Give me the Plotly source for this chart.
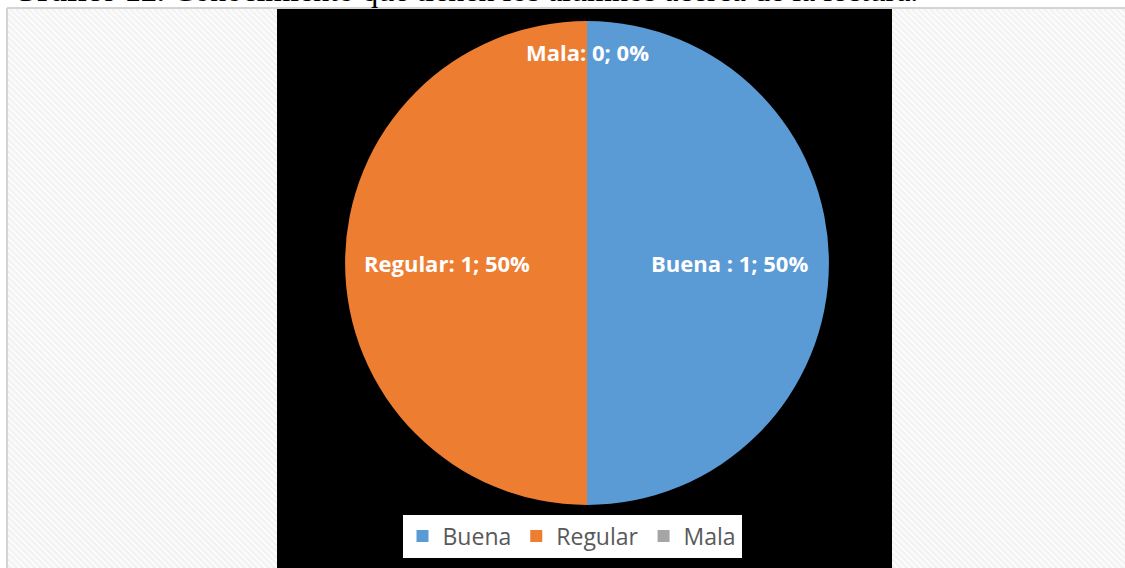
import math
import plotly.graph_objects as go

W, H = 1125, 568

categories = ["Buena", "Regular", "Mala"]
values = [1, 1, 0]
colors = ["#5B9BD5", "#ED7D31", "#A5A5A5"]
label_prefix = ["Buena ", "Regular", "Mala"]
caption = "<b>Gráfico 12.</b> Conocimiento que tienen los alumnos acerca de la lectura."

def px(x):
    return x / W

def py(y):
    return 1 - y / H

fig = go.Figure()

# pie geometry (pixels)
cx, cy, R = 587, 263, 242

fig.add_trace(go.Pie(
    labels=categories,
    values=values,
    marker=dict(colors=colors, line=dict(width=0)),
    sort=False,
    direction="clockwise",
    rotation=0,
    textinfo="none",
    hoverinfo="label+value+percent",
    domain=dict(x=[px(cx - R), px(cx + R)], y=[py(cy + R), py(cy - R)]),
    showlegend=True,
))

shapes = []
# hatched background regions
regions = [(8, 9, 277, H), (892, 9, W, H)]
for (x0, y0, x1, y1) in regions:
    shapes.append(dict(type="rect", xref="paper", yref="paper", x0=px(x0), x1=px(x1),
                       y0=py(y1), y1=py(y0), fillcolor="#f1f1f1", line=dict(width=0), layer="below"))
    step = 6
    c = x0 - y1
    while c < x1 - y0:
        ya = max(y0, x0 - c)
        yb = min(y1, x1 - c)
        if yb > ya:
            shapes.append(dict(type="line", xref="paper", yref="paper",
                               x0=px(ya + c), y0=py(ya), x1=px(yb + c), y1=py(yb),
                               line=dict(color="#fbfbfb", width=2.5), layer="below"))
        c += step
# frame lines
shapes.append(dict(type="line", xref="paper", yref="paper", x0=px(7), x1=1, y0=py(8), y1=py(8),
                   line=dict(color="#d4d4d4", width=2), layer="below"))
shapes.append(dict(type="line", xref="paper", yref="paper", x0=px(7), x1=px(7), y0=0, y1=py(8),
                   line=dict(color="#d4d4d4", width=2), layer="below"))
# black chart area
shapes.append(dict(type="rect", xref="paper", yref="paper", x0=px(277), x1=px(892),
                   y0=0, y1=py(9), fillcolor="#000000", line=dict(width=0), layer="below"))

# data labels
total = sum(values)
annotations = []
cum = 0.0
radial = [0.587, 0.58, 0.872]
for i, (name, v) in enumerate(zip(label_prefix, values)):
    frac = v / total
    mid = (cum + frac / 2) * 2 * math.pi
    cum += frac
    r = radial[i] * R
    lx = cx + r * math.sin(mid)
    ly = cy - r * math.cos(mid)
    annotations.append(dict(
        x=px(lx), y=py(ly), xref="paper", yref="paper", showarrow=False,
        text=f"<b>{name}: {v}; {frac*100:.0f}%</b>",
        font=dict(family="Open Sans", size=22, color="#ffffff"),
        xanchor="center", yanchor="middle"))

annotations.append(dict(
    x=px(10), y=py(10), xref="paper", yref="paper", showarrow=False,
    text=caption, xanchor="left", yanchor="bottom",
    font=dict(family="Liberation Serif", size=32, color="#000000")))

fig.update_layout(
    width=W, height=H,
    margin=dict(l=0, r=0, t=0, b=0),
    paper_bgcolor="#ffffff",
    plot_bgcolor="#ffffff",
    shapes=shapes,
    annotations=annotations,
    legend=dict(
        orientation="h",
        x=px(572), y=py(536), xanchor="center", yanchor="middle",
        bgcolor="#ffffff",
        font=dict(family="Open Sans", size=23, color="#595959"),
        traceorder="normal",
    ),
)

fig.write_html(
    "out.html",
    config={"displayModeBar": False},
    post_script="document.body.style.margin='0';document.documentElement.style.overflow='hidden';",
)
